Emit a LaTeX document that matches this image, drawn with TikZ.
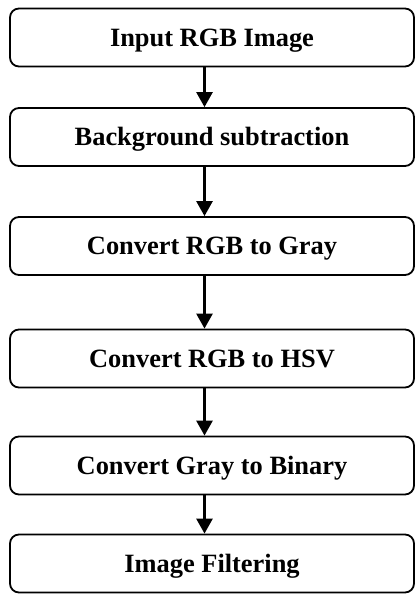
\documentclass[tikz,border=0pt]{standalone}
\usepackage{fontspec}
\setmainfont{Liberation Serif}
\usetikzlibrary{arrows.meta}
\begin{document}
\begin{tikzpicture}[x=1pt,y=-1pt,
  stepbox/.style={draw=black, line width=1.8pt, rounded corners=9pt, fill=white,
    minimum width=404pt, minimum height=58pt, inner sep=0pt,
    font=\fontsize{26.4}{30}\selectfont\bfseries,
    text height=22.76pt, text depth=5.28pt},
  flow/.style={line width=2.6pt, -{Triangle[width=16pt,length=15pt]}}]
\useasboundingbox (0,0) rectangle (416,595);
\node[stepbox] (n1) at (212,37.5) {Input RGB Image};
\node[stepbox] (n2) at (212,137) {Background subtraction};
\node[stepbox] (n3) at (212,246) {Convert RGB to Gray};
\node[stepbox] (n4) at (212,358.5) {Convert RGB to HSV};
\node[stepbox] (n5) at (212,465.5) {Convert Gray to Binary};
\node[stepbox] (n6) at (212,563.5) {Image Filtering};
\coordinate (ax) at (204.5,0);
\draw[flow] (n1.south -| ax) -- (n2.north -| ax);
\draw[flow] (n2.south -| ax) -- (n3.north -| ax);
\draw[flow] (n3.south -| ax) -- (n4.north -| ax);
\draw[flow] (n4.south -| ax) -- (n5.north -| ax);
\draw[flow] (n5.south -| ax) -- (n6.north -| ax);
\end{tikzpicture}
\end{document}
